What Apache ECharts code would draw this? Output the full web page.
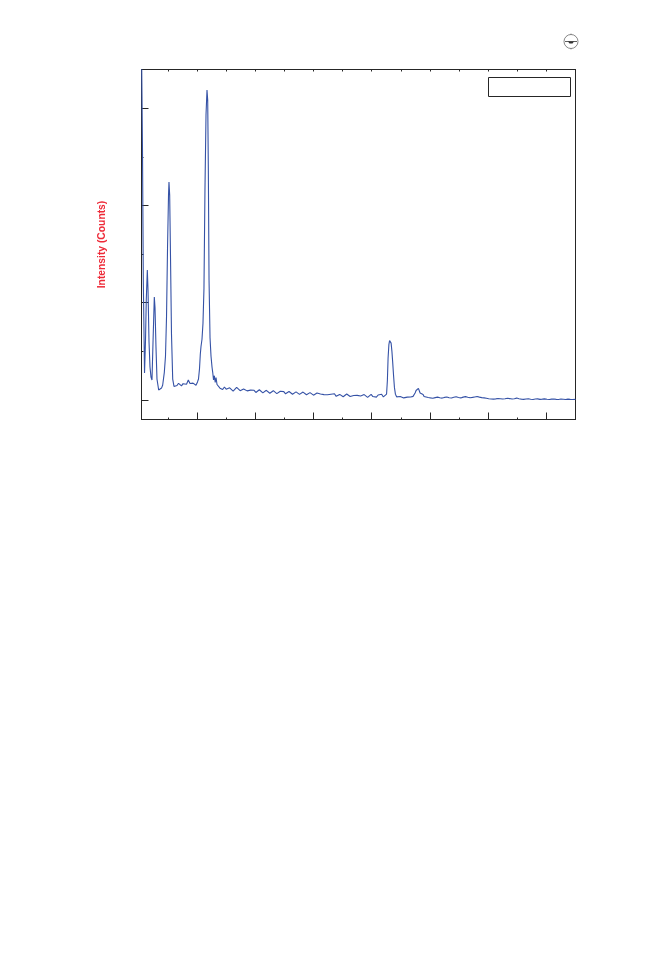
<!DOCTYPE html>
<html>
<head>
<meta charset="utf-8">
<style>html,body{margin:0;padding:0;background:#fff}#c{width:672px;height:960px}</style>
<script src="https://cdn.jsdelivr.net/npm/echarts@6/dist/echarts.min.js"></script>
</head>
<body>
<div id="c"></div>
<script>
const yAxisTitle = "Intensity (Counts)";
const twoTheta = [10.5,10.63,10.77,10.98,11.15,11.28,11.46,11.58,11.75,11.92,12.09,12.26,12.44,12.66,12.78,12.95,13.12,13.41,13.64,13.9,14.1,14.38,14.58,14.76,14.93,15.1,15.18,15.3,15.44,15.61,15.82,16.04,16.3,16.56,16.82,17.07,17.33,17.59,17.93,18.19,18.5,18.79,19.05,19.31,19.57,19.82,20.08,20.25,20.42,20.56,20.68,20.85,21.02,21.19,21.36,21.54,21.71,21.83,21.94,22.06,22.23,22.4,22.57,22.69,22.83,22.97,23.12,23.26,23.43,23.6,23.77,23.94,
24.1,24.4,24.7,25.0,25.3,25.6,25.9,26.2,26.5,26.8,27.1,27.4,27.7,28.0,28.3,28.6,28.9,29.2,29.5,29.8,30.1,30.4,30.7,31.0,31.3,31.6,31.9,32.2,32.5,32.8,33.1,33.4,33.7,34.0,34.3,34.6,34.9,35.2,35.5,35.8,36.1,36.4,36.7,37.0,37.3,37.6,37.9,38.2,38.5,38.8,39.1,39.4,39.7,40.0,40.3,40.6,40.9,41.2,41.5,41.8,42.1,42.4,42.7,43.0,43.3,43.6,43.9,44.2,44.5,44.8,45.1,45.4,45.7,46.0,46.3,46.6,46.9,47.2,47.5,47.8,48.1,48.4,48.7,49.0,49.3,49.6,49.9,50.2,50.5,50.8,51.1,51.4,51.7,52.0,52.3,
52.55,52.69,52.81,52.95,53.07,53.21,53.33,53.47,53.59,53.73,53.9,54.07,54.28,54.6,54.9,55.2,55.5,55.8,56.1,56.4,56.7,57.1,57.28,57.45,57.62,57.79,58.02,58.14,58.31,58.48,58.65,58.82,58.99,59.16,59.33,
59.7,60.1,60.5,60.9,61.3,61.7,62.1,62.5,62.9,63.3,63.7,64.1,64.5,64.9,65.3,65.7,66.1,66.5,66.9,67.3,67.7,68.1,68.5,68.9,69.3,69.7,70.1,70.5,70.9,71.3,71.7,72.1,72.5,72.9,73.3,73.7,74.1,74.5,74.9,75.3,75.7,76.1,76.5,76.9,77.3,77.7,78.1,78.5,78.9,79.3,79.7,80.1,80.5,80.9,81.3,81.7,82.1,82.5,82.9,83.3,83.7,84.1,84.5,85.0];
const counts = [3400,2570,1234,278,617,1028,1336,1131,600,340,235,206,600,1059,950,540,215,103,113,123,155,285,450,860,1560,2107,2241,2107,1480,680,215,140,160,150,172,158,146,168,178,162,206,170,156,174,160,152,186,216,320,470,550,625,790,1150,2159,2930,3187,3084,2364,1234,640,450,340,285,206,250,180,232,160,150,165,122,
122,108,134,112,98,126,118,92,104,130,
110,96,88,114,120,94,84,102,116,100,
78,90,106,96,74,86,100,92,70,82,
96,84,66,78,90,72,86,64,76,88,
80,60,72,84,66,58,74,82,62,54,
68,76,58,50,66,72,52,62,44,56,
70,54,42,60,48,64,38,52,58,40,
34,50,62,44,36,54,46,30,48,60,
42,34,56,38,28,46,58,36,44,30,
52,40,60,32,48,
60,200,430,570,612,612,585,500,400,270,130,60,33,24,36,28,22,34,30,24,32,38,55,72,98,118,120,103,72,77,77,57,36,24,19,
26,22,19,25,30,24,20,27,31,23,
21,28,33,26,22,30,35,29,24,27,
32,36,30,25,22,18,14,11,9,12,
16,14,10,13,18,15,11,14,20,13,
9,7,11,13,8,6,10,12,7,9,
12,8,5,9,11,7,6,10,8,5,
9,7,6,7];
const majorX = [20,30,40,50,60,70,80];
const minorX = [15,25,35,45,55,65,75,85];
const topX = [15,20,25,30,35,40,45,50,55,60,65,70,75,80,85];
const majorY = [0,1000,2000,3000];
const minorY = [500,1500,2500];

const xMin = 10.46, xMax = 85, yMin = -200, yMax = 3397;
const inkColor = "#262626", lineColor = "#3552a6";
const hiddenLabels = {show:false};
const noSplit = {show:false};
function xAx(pos, vals, len){
  return {type:"value",position:pos,min:xMin,max:xMax,axisLine:{show:true,onZero:false,lineStyle:{color:inkColor,width:1}},
    axisTick:{show:true,inside:true,length:len,customValues:vals,lineStyle:{color:inkColor,width:1}},
    axisLabel:hiddenLabels,splitLine:noSplit};
}
function yAx(pos, vals, len, extra){
  return Object.assign({type:"value",position:pos,min:yMin,max:yMax,axisLine:{show:true,onZero:false,lineStyle:{color:inkColor,width:1}},
    axisTick:{show:vals.length>0,inside:true,length:len,customValues:vals,lineStyle:{color:inkColor,width:1}},
    axisLabel:hiddenLabels,splitLine:noSplit},extra||{});
}
const chart = echarts.init(document.getElementById("c"),null,{renderer:"canvas"});
chart.setOption({
  animation:false,
  backgroundColor:"#fff",
  grid:{left:141.5,top:69.5,width:434,height:350,containLabel:false},
  xAxis:[xAx("bottom",majorX,7),xAx("bottom",minorX,2),xAx("top",topX,2)],
  yAxis:[
    yAx("left",majorY,7,{name:yAxisTitle,nameLocation:"middle",nameRotate:90,nameGap:34,
      nameTextStyle:{color:"#ee2a38",fontFamily:"Liberation Sans",fontWeight:"bold",fontSize:10.3}}),
    yAx("left",minorY,2),
    yAx("right",[],0)
  ],
  series:[{type:"line",xAxisIndex:0,yAxisIndex:0,data:twoTheta.map((x,i)=>[x,counts[i]]),
    showSymbol:false,smooth:false,clip:true,lineStyle:{color:lineColor,width:1.1}}],
  graphic:[
    {type:"rect",shape:{x:488.5,y:77.5,width:82,height:19},style:{fill:"#fff",stroke:inkColor,lineWidth:1},z:10},
    {type:"circle",shape:{cx:571,cy:41.5,r:7},style:{fill:"#fff",stroke:"#555",lineWidth:0.7},z:10},
    {type:"line",shape:{x1:565,y1:41.5,x2:577,y2:41.5},style:{stroke:"#333",lineWidth:0.8},z:11},
    {type:"polygon",shape:{points:[[568,41.5],[574,41.5],[572.5,43.5],[569.5,43.5]]},style:{fill:"#333"},z:11},
    {type:"line",shape:{x1:571,y1:33.5,x2:571,y2:35},style:{stroke:"#777",lineWidth:0.7},z:11},
    {type:"line",shape:{x1:571,y1:48,x2:571,y2:49.5},style:{stroke:"#777",lineWidth:0.7},z:11}
  ]
});
</script>
</body>
</html>
